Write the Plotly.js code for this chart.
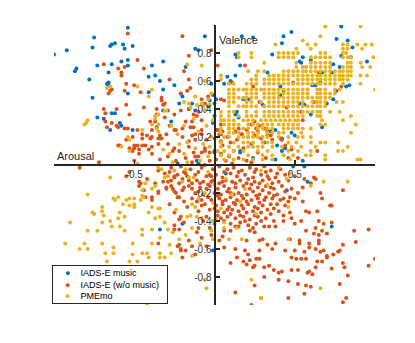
<!DOCTYPE html>
<html>
<head>
<meta charset="utf-8">
<script src="https://cdn.plot.ly/plotly-3.0.1.min.js"></script>
<style>
  html, body { margin: 0; padding: 0; background: #fff; }
  #graphDiv { width: 415px; height: 343px; }
</style>
</head>
<body>
<div id="graphDiv"></div>
<script>
// IADS-E music clips: [arousal, valence]
var musicPts = [
  [-1.0,0.79],[-0.92,0.82],[-0.75,0.91],[-0.76,0.84],[-0.54,0.98],[-0.64,0.86],[-0.62,0.87],[-0.65,0.85],
  [-0.57,0.86],[-0.56,0.83],[-0.51,0.85],[-0.73,0.71],[-0.87,0.67],[-0.86,0.69],[-0.64,0.72],[-0.58,0.74],
  [-0.54,0.75],[-0.54,0.71],[-0.66,0.66],[-0.78,0.61],[-0.67,0.58],[-0.66,0.59],[-0.66,0.57],[-0.39,0.71],
  [-0.32,0.74],[-0.41,0.63],[-0.37,0.64],[-0.34,0.60],[-0.54,0.51],[-0.76,0.48],[-0.41,0.52],[-0.32,0.54],
  [-0.25,0.57],[-0.21,0.51],[-0.06,0.92],[-0.12,0.83],[-0.10,0.82],[-0.18,0.70],[-0.02,0.58],[-0.14,0.44],
  [-0.16,0.40],[-0.22,0.44],[-0.03,0.46],[-0.01,0.50],[-0.64,0.37],[-0.62,0.37],[-0.32,0.39],[-0.73,0.34],
  [-0.69,0.33],[-0.65,0.25],[-0.59,0.30],[-0.58,0.28],[-0.51,0.25],[-0.36,0.27],[-0.27,0.31],[-0.20,0.49],
  [-0.12,0.39],[-0.06,0.39],[-0.04,0.42],[-0.11,0.03],[-0.10,0.01],[-0.23,0.01],[0.04,0.22],[0.0,0.09],
  [0.16,0.09],[0.07,-0.06],[0.24,0.05],[0.17,0.92],[0.24,0.91],[0.48,0.95],[0.43,0.92],[0.42,0.87],
  [0.79,0.99],[0.76,0.90],[0.83,0.89],[0.86,0.84],[0.13,0.79],[0.14,0.77],[0.16,0.71],[0.36,0.79],
  [0.55,0.77],[0.53,0.74],[0.54,0.73],[0.60,0.75],[0.79,0.78],[0.85,0.77],[0.95,0.74],[0.74,0.72],
  [0.78,0.70],[0.33,0.66],[0.13,0.64],[0.08,0.63],[0.06,0.58],[0.10,0.60],[0.67,0.66],[0.66,0.59],
  [0.73,0.66],[0.41,0.56],[0.61,0.57],[0.63,0.57],[0.76,0.53],[0.82,0.56],[0.84,0.57],[0.18,0.47],
  [0.21,0.47],[0.43,0.53],[0.41,0.50],[0.53,0.44],[0.56,0.43],[0.70,0.44],[0.74,0.47],[0.13,0.36],
  [0.14,0.38],[0.60,0.36],[0.30,0.43],[0.31,0.42],[0.01,0.47],[0.0,0.44],[0.15,0.34],[0.35,0.24],
  [0.38,0.25],[0.48,0.23],[0.50,0.21],[0.42,0.19],[0.39,0.14],[0.44,0.12],[0.42,0.10],[0.31,0.16],
  [0.16,0.10],[0.38,0.04],[0.55,0.03],[0.56,-0.01],[0.49,-0.01],[0.58,-0.12],[0.45,-0.18],[0.0,0.10],
  [0.67,0.27],[0.73,-0.44],[-0.34,-0.46],[-0.20,-0.42],[-0.01,-0.61],[0.0,0.35],[-0.01,0.30],[0.01,0.25]
];

// IADS-E sounds without music: [arousal, valence]
var soundPts = [
  [-0.54,0.94],[-0.20,0.92],[-0.16,0.78],[-0.48,0.75],[-0.69,0.72],[-0.60,0.69],[-0.56,0.70],[-0.58,0.66],
  [-0.58,0.64],[-0.44,0.69],[-0.28,0.61],[-0.19,0.67],[-0.16,0.61],[-0.55,0.58],[-0.50,0.57],[-0.64,0.54],
  [-0.65,0.53],[-0.66,0.51],[-0.56,0.53],[-0.46,0.52],[-0.15,0.55],[-0.17,0.53],[-0.21,0.51],[-0.33,0.48],
  [-0.33,0.46],[-0.55,0.43],[-0.44,0.41],[-0.69,0.40],[-0.68,0.37],[-0.61,0.40],[-0.53,0.36],[-0.29,0.39],
  [-0.25,0.36],[-0.21,0.39],[-0.06,0.44],[-0.10,0.38],[-0.13,0.36],[-0.36,0.40],[-0.16,0.40],[-0.68,0.31],
  [-0.67,0.27],[-0.61,0.28],[-0.60,0.27],[-0.56,0.26],[-0.55,0.18],[-0.59,0.14],[-0.50,0.14],[-0.48,0.14],
  [-0.45,0.14],[-0.43,0.14],[-0.53,0.12],[-0.50,0.12],[-0.47,0.11],[-0.41,0.11],[-0.39,0.20],[-0.35,0.19],
  [-0.34,0.21],[-0.40,0.31],[-0.37,0.31],[-0.36,0.36],[-0.31,0.34],[-0.45,0.22],[-0.28,0.28],[-0.25,0.25],
  [-0.30,0.22],[-0.32,0.43],[-0.31,0.44],[-0.11,0.35],[-0.08,0.32],[-0.14,0.31],[-0.18,0.31],[-0.13,0.27],
  [-0.20,0.26],[-0.12,0.18],[-0.14,0.21],[-0.16,0.17],[-0.08,0.22],[-0.06,0.12],[-0.03,0.09],[-0.08,0.09],
  [-0.12,0.06],[-0.18,0.05],[-0.25,0.12],[-0.22,0.10],[-0.04,0.49],[-0.08,0.47],[-0.72,0.02],[-0.84,-0.02],
  [-0.60,0.14],[-0.51,0.10],[-0.50,0.03],[-0.47,0.08],[-0.40,0.19],[-0.39,0.13],[-0.39,0.08],[-0.35,0.15],
  [-0.34,0.04],[-0.29,0.06],[-0.26,0.10],[-0.24,0.03],[-0.42,-0.10],[-0.46,-0.13],[-0.47,-0.15],[-0.39,-0.23],
  [-0.35,-0.19],[-0.30,-0.16],[-0.27,-0.11],[-0.25,-0.09],[-0.35,-0.04],[-0.31,-0.06],[-0.28,-0.05],[-0.23,-0.07],
  [-0.19,-0.05],[-0.22,-0.13],[-0.19,-0.16],[-0.16,-0.11],[-0.14,-0.17],[-0.09,-0.13],[-0.05,-0.17],[-0.02,-0.12],
  [-0.22,-0.23],[-0.19,-0.26],[-0.17,-0.30],[-0.11,-0.26],[-0.08,-0.29],[-0.04,-0.23],[-0.16,0.13],[-0.13,0.09],
  [-0.10,0.06],[-0.06,0.10],[-0.03,0.03],[-0.14,0.02],[-0.06,0.0],[-0.15,0.27],[-0.12,0.22],[-0.08,0.25],
  [-0.05,0.18],[-0.20,0.20],[-0.24,0.25],[-0.51,0.20],[-0.48,0.25],[-0.54,0.26],[-0.64,0.30],[-0.45,0.19],
  [-0.42,0.21],[-0.39,0.25],[-0.33,0.19],[-0.29,0.15],
  [0.04,0.29],[0.02,0.25],[0.08,0.20],[0.10,0.16],[0.05,0.14],[0.14,0.18],[0.17,0.22],[0.20,0.25],
  [0.21,0.20],[0.23,0.15],[0.25,0.31],[0.28,0.28],[0.31,0.26],[0.33,0.21],[0.36,0.18],[0.27,0.09],
  [0.32,0.05],[0.42,0.18],[0.55,0.32],[0.64,0.10],[0.04,0.08],[0.09,0.06],[0.15,0.05],[0.20,0.03],
  [0.23,0.02],[0.02,0.71],[0.19,0.71],[0.11,0.59],[0.24,0.56],[0.04,0.47],[0.06,0.46],[0.28,0.45],
  [0.49,0.59],[0.45,0.41],[0.54,0.38],[0.62,0.45],[0.79,0.56],[0.65,0.66],[-0.02,0.82],[0.05,0.24],
  [0.03,0.22],[0.0,0.19],[0.04,0.17],[0.09,0.26],[0.13,0.24],[0.15,0.26],[0.17,0.22],[0.23,0.29],
  [0.26,0.26],[0.27,0.24],[0.25,0.21],[0.29,0.19],[0.33,0.24],[0.35,0.21],[0.41,0.19],[0.44,0.14],
  [0.46,0.05],[0.52,0.05],[0.48,0.11],[0.07,0.03],[0.12,0.10],[0.18,0.12],[0.01,0.04],[0.11,0.01],
  [-0.27,-0.02],[-0.21,-0.01],[-0.15,-0.03],[-0.08,-0.02],[-0.01,-0.03],[0.03,-0.01],[0.08,-0.03],[0.12,-0.02],
  [0.17,-0.04],[0.22,-0.02],[0.26,-0.03],[0.31,-0.01],[0.35,-0.04],[0.41,-0.03],[-0.25,-0.08],[-0.17,-0.08],
  [-0.12,-0.07],[-0.05,-0.08],[0.01,-0.07],[0.05,-0.09],[0.10,-0.06],[0.14,-0.08],[0.19,-0.07],[0.24,-0.09],
  [0.29,-0.07],[0.33,-0.08],[0.38,-0.09],[0.44,-0.07],[0.50,-0.08],[-0.29,-0.12],[-0.20,-0.10],[-0.11,-0.11],
  [-0.07,-0.12],[-0.01,-0.11],[0.03,-0.13],[0.07,-0.11],[0.11,-0.12],[0.16,-0.11],[0.20,-0.13],[0.25,-0.12],
  [0.30,-0.11],[0.36,-0.13],[0.40,-0.12],[0.46,-0.11],[-0.26,-0.17],[-0.16,-0.15],[-0.09,-0.16],[-0.03,-0.15],
  [0.02,-0.17],[0.06,-0.15],[0.09,-0.17],[0.13,-0.16],[0.18,-0.15],[0.22,-0.17],[0.27,-0.16],[0.32,-0.15],
  [0.37,-0.17],[0.42,-0.15],[0.48,-0.17],[-0.24,-0.20],[-0.12,-0.20],[-0.07,-0.21],[0.0,-0.20],[0.04,-0.21],
  [0.08,-0.19],[0.12,-0.21],[0.15,-0.20],[0.20,-0.21],[0.24,-0.19],[0.28,-0.21],[0.34,-0.20],[0.39,-0.21],
  [0.52,-0.20],[-0.14,-0.24],[-0.02,-0.25],[0.03,-0.24],[0.07,-0.25],[0.10,-0.23],[0.14,-0.25],[0.18,-0.24],
  [0.23,-0.25],[0.27,-0.24],[0.31,-0.25],[0.36,-0.24],[0.41,-0.25],[-0.06,-0.28],[0.01,-0.29],[0.05,-0.28],
  [0.09,-0.30],[0.13,-0.28],[0.17,-0.29],[0.21,-0.28],[0.25,-0.30],[0.30,-0.29],[0.35,-0.28],[0.44,-0.29],
  [-0.10,-0.33],[-0.03,-0.32],[0.02,-0.33],[0.06,-0.34],[0.11,-0.32],[0.15,-0.33],[0.20,-0.34],[0.24,-0.33],
  [0.29,-0.34],[0.33,-0.32],[0.40,-0.33],[0.47,-0.34],[-0.05,-0.37],[0.04,-0.38],[0.08,-0.37],[0.13,-0.38],
  [0.18,-0.37],[0.22,-0.39],[0.27,-0.37],[0.32,-0.38],[0.37,-0.40],[0.0,-0.42],[0.10,-0.42],[0.16,-0.41],
  [0.21,-0.43],[0.26,-0.42],[0.31,-0.44],
  [-0.18,-0.06],[-0.10,-0.05],[-0.03,-0.07],[0.06,-0.05],[0.15,-0.05],[0.21,-0.10],[0.28,-0.13],[0.34,-0.10],
  [0.39,-0.06],[-0.14,-0.13],[-0.04,-0.14],[0.05,-0.12],[0.13,-0.13],[0.23,-0.14],[0.30,-0.18],[0.35,-0.16],
  [0.44,-0.19],[-0.20,-0.18],[-0.10,-0.19],[0.02,-0.22],[0.10,-0.20],[0.17,-0.22],[0.26,-0.22],[0.32,-0.23],
  [0.37,-0.22],[0.46,-0.26],[-0.08,-0.25],[0.05,-0.26],[0.12,-0.27],[0.20,-0.26],[0.28,-0.27],[0.39,-0.28],
  [0.0,-0.31],[0.08,-0.32],[0.18,-0.31],[0.27,-0.31],[0.37,-0.31],[0.43,-0.36],[0.02,-0.36],[0.10,-0.35],
  [0.16,-0.36],[0.25,-0.36],[0.35,-0.35],[0.06,-0.40],[0.19,-0.40],[0.29,-0.40],[0.13,-0.44],[0.24,-0.45],
  [-0.02,-0.08],[0.25,-0.05],[0.32,-0.05],
  [0.56,-0.10],[0.55,-0.16],[0.60,-0.13],[0.66,-0.20],[0.67,-0.24],[0.72,-0.29],[0.73,-0.29],[0.55,-0.26],
  [0.47,-0.23],[0.50,-0.24],[0.43,-0.24],[0.80,-0.18],[0.62,-0.09],[0.63,-0.10],[0.73,-0.41],[0.87,-0.47],
  [0.96,-0.46],[0.88,-0.55],[1.0,-0.67],[0.96,-0.72],[0.80,-0.57],[0.78,-0.61],[0.74,-0.64],[0.80,-0.70],
  [0.81,-0.73],[0.73,-0.74],[0.83,-0.79],[0.78,-0.85],[0.82,-0.95],[0.80,-0.98],[0.59,-0.76],[0.61,-0.78],
  [0.63,-0.73],[0.57,-0.86],[0.60,-0.87],[0.56,-0.92],[0.46,-0.95],[0.23,-1.0],[0.29,-0.95],[0.13,-0.91],
  [0.25,-0.86],[0.10,-0.70],[0.06,-0.59],[0.13,-0.60],[0.19,-0.61],[0.22,-0.68],[0.26,-0.67],[0.24,-0.73],
  [0.31,-0.73],[0.34,-0.72],[0.37,-0.75],[0.31,-0.80],[0.40,-0.77],[0.42,-0.76],[0.48,-0.75],[0.52,-0.75],
  [0.40,-0.82],[0.46,-0.83],[0.52,-0.85],[0.48,-0.66],[0.51,-0.67],[0.54,-0.67],[0.57,-0.67],[0.44,-0.61],
  [0.50,-0.61],[0.56,-0.62],[0.59,-0.59],[0.63,-0.60],[0.68,-0.61],[0.70,-0.66],[0.38,-0.56],[0.36,-0.60],
  [0.33,-0.57],[0.30,-0.53],[0.28,-0.61],[0.21,-0.64],[0.47,-0.53],[0.53,-0.54],[0.59,-0.56],[0.65,-0.54],
  [0.62,-0.49],[0.57,-0.47],[0.67,-0.47],[0.70,-0.49],[0.50,-0.42],[0.54,-0.40],[0.48,-0.38],[0.43,-0.40],
  [0.38,-0.44],[0.34,-0.44],[0.57,-0.33],[0.59,-0.34],[0.64,-0.33],[0.65,-0.40],[0.28,-0.54],[0.25,-0.48],
  [0.22,-0.47],[0.20,-0.54],[0.15,-0.44],[0.10,-0.47],[0.06,-0.47],[0.05,-0.51],[0.03,-0.54],[0.28,-0.67],
  [0.25,-0.72],[0.20,-0.71],[0.18,-0.69],[0.14,-0.66],[0.58,-0.77],[0.64,-0.69],[0.67,-0.69],[0.70,-0.65],
  [0.66,-0.62],[0.77,-0.62],[0.68,-0.42],[0.63,-0.45],[0.65,-0.50],[0.65,-0.56],[0.53,-0.56],
  [-0.55,-0.08],[-0.53,-0.05],[-0.47,-0.12],[-0.44,-0.18],[-0.43,-0.23],[-0.39,-0.25],[-0.35,-0.20],[-0.37,-0.13],
  [-0.32,-0.12],[-0.30,-0.17],[-0.27,-0.15],[-0.25,-0.19],[-0.23,-0.23],[-0.28,-0.28],[-0.25,-0.34],[-0.21,-0.37],
  [-0.19,-0.41],[-0.22,-0.46],[-0.23,-0.58],[-0.16,-0.54],[-0.14,-0.58],[-0.21,-0.61],[-0.20,-0.66],[-0.35,-0.56],
  [-0.25,-0.46],[-0.22,-0.57],[-0.21,-0.60],[-0.18,-0.61],[-0.12,-0.64],[-0.25,-0.43],[-0.22,-0.39],[-0.03,-0.45],
  [-0.07,-0.40],[-0.10,-0.45],[-0.02,-0.50],[-0.08,-0.52],[-0.05,-0.58],[-0.11,-0.48]
];

// PMEmo songs on the rating grid: valence rows and the arousal values filled in each row
var pmemoRowY = [0.99, 0.92, 0.89, 0.86, 0.83, 0.80, 0.77, 0.73, 0.70, 0.67, 0.64, 0.61, 0.58, 0.54,
  0.51, 0.48, 0.45, 0.42, 0.38, 0.35, 0.32, 0.29, 0.26, 0.23, 0.20, 0.16, 0.13, 0.10, 0.07, 0.04];
var pmemoRowX = [
  [0.69,0.91],
  [0.66],
  [0.55],
  [0.38,0.58,0.63,0.80,0.83,0.89,0.94,0.98],
  [0.51,0.60,0.80,0.83,0.92],
  [0.15,0.23,0.40,0.43,0.46,0.49,0.52,0.66,0.69,0.80,0.82],
  [0.15,0.23,0.40,0.43,0.46,0.49,0.60,0.63,0.66,0.69,0.72,0.80,0.83,0.85,0.99],
  [0.31,0.51,0.60,0.63,0.66,0.69,0.72,0.83,0.85,0.91],
  [0.51,0.55,0.57,0.60,0.63,0.66,0.69,0.72,0.80,0.83,0.85,0.92,0.97],
  [0.21,0.27,0.31,0.43,0.46,0.49,0.52,0.55,0.57,0.60,0.63,0.66,0.69,0.72,0.75,0.78,0.80,0.83,0.85],
  [0.04,0.26,0.34,0.37,0.40,0.43,0.46,0.49,0.52,0.55,0.58,0.61,0.64,0.66,0.69,0.72,0.75,0.78,0.80,0.83,0.85,0.91,0.95],
  [0.04,0.23,0.26,0.31,0.34,0.37,0.40,0.43,0.46,0.52,0.55,0.58,0.61,0.64,0.66,0.69,0.72,0.75,0.78,0.80,0.83],
  [0.09,0.12,0.20,0.23,0.26,0.31,0.34,0.37,0.40,0.43,0.46,0.49,0.52,0.55,0.58,0.61,0.64,0.66,0.69,0.72,0.75,0.80,0.91],
  [0.09,0.12,0.15,0.18,0.20,0.23,0.26,0.29,0.31,0.34,0.37,0.40,0.43,0.46,0.49,0.52,0.55,0.58,0.64,0.66,0.69,0.75,0.78,1.0],
  [0.09,0.12,0.20,0.23,0.26,0.31,0.34,0.37,0.40,0.43,0.46,0.49,0.52,0.55,0.58,0.64,0.66,0.69,0.72,0.75],
  [0.09,0.12,0.15,0.18,0.20,0.23,0.26,0.31,0.34,0.37,0.40,0.43,0.46,0.49,0.52,0.55,0.58,0.61,0.64,0.66,0.69,0.72],
  [0.09,0.12,0.20,0.23,0.29,0.34,0.37,0.40,0.43,0.46,0.49,0.52,0.55,0.61,0.64,0.66,0.69,0.76,0.80],
  [0.09,0.15,0.18,0.20,0.23,0.26,0.31,0.34,0.37,0.40,0.43,0.46,0.49,0.52,0.55,0.58,0.61,0.64,0.66,0.69],
  [0.04,0.09,0.12,0.20,0.26,0.31,0.34,0.37,0.40,0.43,0.46,0.49,0.52,0.55,0.58,0.61,0.64,0.66,0.72,0.78],
  [0.04,0.09,0.15,0.20,0.23,0.26,0.31,0.34,0.37,0.40,0.43,0.46,0.49,0.52,0.55,0.64,0.66,0.85],
  [0.04,0.06,0.09,0.12,0.18,0.21,0.24,0.29,0.32,0.35,0.38,0.41,0.44,0.47,0.50,0.52,0.67,0.80],
  [0.06,0.09,0.12,0.15,0.21,0.24,0.27,0.30,0.33,0.36,0.40,0.43,0.46,0.49,0.52,0.66,0.69,0.88],
  [0.04,0.09,0.12,0.18,0.21,0.27,0.30,0.33,0.36,0.43,0.46,0.49,0.52,0.55,0.60],
  [0.04,0.09,0.12,0.15,0.21,0.24,0.27,0.33,0.36,0.40,0.43,0.54,0.85],
  [0.06,0.09,0.15,0.18,0.21,0.24,0.27,0.30,0.33,0.40,0.46,0.52,0.55,0.60],
  [0.04,0.12,0.18,0.21,0.24,0.30,0.33,0.36,0.46,0.51,0.60,0.66,0.69,0.77],
  [0.04,0.09,0.15,0.21,0.24,0.27,0.30,0.36,0.42,0.48,0.54,0.63,0.83],
  [0.02,0.06,0.12,0.18,0.27,0.33,0.46,0.52,0.60,0.77,0.80],
  [0.04,0.09,0.21,0.30,0.36,0.43,0.49,0.57,0.60,0.69],
  [0.06,0.12,0.18,0.24,0.30,0.36,0.47,0.69,0.89,0.91]
];

// PMEmo songs away from the dense block: [arousal, valence]
var pmemoPts = [
  [-0.80,0.30],[-0.81,0.29],[-0.79,0.32],[-0.67,0.55],[-0.65,0.56],[-0.48,0.56],[-0.39,0.54],[-0.08,0.71],
  [-0.17,0.72],[-0.31,0.39],[-0.36,0.26],[-0.35,0.29],[-0.54,0.20],[-0.53,0.18],[-0.45,0.25],[-0.16,0.44],
  [-0.15,0.41],[-0.11,0.43],[-0.08,0.44],[-0.04,0.47],[-0.03,0.43],[-0.12,0.49],[-0.41,0.49],[-0.58,0.13],
  [-0.53,0.10],[-0.48,0.01],[-0.39,0.29],[-0.37,0.33],[-0.35,0.24],[-0.06,0.60],[-0.02,0.51],[-0.19,0.45],
  [-0.30,0.39],[-0.35,0.36],[-0.37,0.35],[-0.07,0.42],[-0.06,0.39],
  [-0.27,0.28],[-0.23,0.22],[-0.19,0.28],[-0.17,0.16],[-0.10,0.24],[-0.05,0.28],[-0.07,0.15],[-0.02,0.20],
  [-0.03,0.13],[-0.22,0.15],[-0.28,0.08],[-0.32,0.11],[-0.19,0.08],[-0.12,0.12],[-0.09,0.03],[-0.04,0.06],
  [-0.17,0.02],[-0.26,0.02],[-0.01,0.32],[-0.13,0.33],
  [-0.35,-0.02],[-0.31,-0.09],[-0.18,-0.03],[-0.13,-0.09],[-0.04,-0.05],[0.0,-0.14],[-0.06,-0.20],[-0.01,-0.27],
  [-0.12,-0.30],[-0.15,-0.36],[-0.08,-0.38],[0.07,-0.10],[0.11,-0.21],[0.04,-0.31],[0.16,-0.26],[0.19,-0.17],
  [0.29,-0.04],[0.33,-0.14],[0.26,-0.35],[0.06,-0.45],[0.01,-0.38],[-0.01,-0.40],[-0.02,-0.47],[-0.01,-0.53],
  [0.09,-0.53],[0.17,-0.53],[0.06,-0.41],[0.14,-0.45],[0.46,-0.53],[0.47,-0.06],[0.68,-0.12],[0.83,-0.12],
  [0.60,-0.15],[0.46,-0.30],[0.23,-0.82],[0.29,-0.95],[0.66,-0.88],[0.40,-0.02],[0.45,-0.10],
  [-0.65,-0.09],[-0.79,-0.21],[-0.62,-0.25],[-0.55,-0.25],[-0.53,-0.29],[-0.50,-0.28],[-0.46,-0.25],[-0.44,-0.23],
  [-0.76,-0.34],[-0.70,-0.33],[-0.69,-0.36],[-0.65,-0.40],[-0.90,-0.41],[-0.79,-0.47],[-0.73,-0.47],[-0.84,-0.60],
  [-0.79,-0.60],[-0.93,-0.56],[-1.0,-0.75],[-0.42,-1.0],[-0.81,-0.56],[-0.75,-0.35],[-0.70,-0.41],[-0.68,-0.63],
  [-0.64,-0.44],[-0.63,-0.59],[-0.60,-0.38],[-0.59,-0.44],[-0.56,-0.47],[-0.56,-0.37],[-0.59,-0.34],[-0.70,-0.56],
  [-0.67,-0.69],[-0.63,-0.63],[-0.51,-0.56],[-0.48,-0.69],[-0.45,-0.46],[-0.45,-0.50],[-0.45,-0.63],[-0.42,-0.63],
  [-0.41,-0.66],[-0.41,-0.34],[-0.39,-0.46],[-0.37,-0.38],[-0.34,-0.37],[-0.34,-0.63],[-0.34,-0.66],[-0.31,-0.66],
  [-0.27,-0.63],[-0.28,-0.57],[-0.29,-0.46],[-0.51,-0.64],[-0.17,-0.37],[-0.11,-0.37],[-0.18,-0.50],[-0.06,-0.82],
  [-0.05,-0.88],[-0.53,-0.69],[-0.70,-0.30],[-0.63,-0.24],[-0.60,-0.23],[-0.57,-0.28],[-0.53,-0.24],[-0.50,-0.24],
  [-0.50,-0.30],[-0.45,-0.22],[-0.45,-0.18],[-0.43,-0.13],[-0.39,-0.17],[-0.37,-0.15],[-0.35,-0.31],[-0.34,-0.31],
  [-0.39,-0.30],[-0.33,-0.03],[-0.29,-0.08],[-0.25,-0.04],[-0.20,-0.12],[-0.16,-0.09],[-0.14,-0.28],[-0.10,-0.24],
  [-0.24,-0.32],[-0.31,-0.41],[-0.26,-0.48],[-0.22,-0.53],[-0.14,-0.45],[-0.09,-0.56],[-0.14,-0.65],[-0.39,-0.56],
  [-0.34,-0.52]
];

var xTicks = [-1, -0.5, 0.5, 1];
var xTickText = ['', '-0.5', '0.5', ''];
var yTicks = [-1, -0.8, -0.6, -0.4, -0.2, 0.2, 0.4, 0.6, 0.8, 1];
var yTickText = ['', '-0.8', '-0.6', '-0.4', '-0.2', '0.2', '0.4', '0.6', '0.8', ''];

function col(pts, i) {
  return pts.map(function (p) { return p[i]; });
}

var pmemoX = [];
var pmemoY = [];
for (var r = 0; r < pmemoRowY.length; r++) {
  for (var c = 0; c < pmemoRowX[r].length; c++) {
    pmemoX.push(pmemoRowX[r][c]);
    pmemoY.push(pmemoRowY[r]);
  }
}
pmemoX = pmemoX.concat(col(pmemoPts, 0));
pmemoY = pmemoY.concat(col(pmemoPts, 1));

var dotSize = 4;
var musicTrace = {
  x: col(musicPts, 0), y: col(musicPts, 1),
  type: 'scatter', mode: 'markers', name: 'IADS-E music',
  marker: { color: '#0072BD', size: dotSize }
};
var soundTrace = {
  x: col(soundPts, 0), y: col(soundPts, 1),
  type: 'scatter', mode: 'markers', name: 'IADS-E (w/o music)',
  marker: { color: '#D95319', size: dotSize }
};
var pmemoTrace = {
  x: pmemoX, y: pmemoY,
  type: 'scatter', mode: 'markers', name: 'PMEmo',
  marker: { color: '#EDB120', size: dotSize }
};

var axisColor = '#262626';
var tickFont = { family: 'Liberation Sans, Arial, sans-serif', size: 10, color: '#333333' };
var nb = '\u00a0';
// legend box drawn as one bordered annotation so it stays as compact as the original
function legendRow(color, label) {
  return nb + nb + nb + nb + '<span style="color:' + color + '">\u25CF</span>' +
    nb + nb + nb + nb + label;
}
var legendText = legendRow('#0072BD', 'IADS-E music') + '<br>' +
  legendRow('#D95319', 'IADS-E (w/o music)') + '<br>' +
  legendRow('#EDB120', 'PMEmo');

var layout = {
  width: 415,
  height: 343,
  margin: { l: 54, r: 40, t: 25, b: 38 },
  paper_bgcolor: '#ffffff',
  plot_bgcolor: '#ffffff',
  showlegend: false,
  xaxis: {
    range: [-1, 1], anchor: 'free', position: 0.5,
    showline: true, linecolor: axisColor, linewidth: 2,
    showgrid: false, zeroline: false,
    ticks: 'inside', ticklen: 4, tickwidth: 1.5, tickcolor: axisColor,
    tickmode: 'array', tickvals: xTicks, ticktext: xTickText,
    tickfont: tickFont
  },
  yaxis: {
    range: [-1, 1], anchor: 'free', position: 0.5,
    showline: true, linecolor: axisColor, linewidth: 2,
    showgrid: false, zeroline: false,
    ticks: 'inside', ticklen: 4, tickwidth: 1.5, tickcolor: axisColor,
    tickmode: 'array', tickvals: yTicks, ticktext: yTickText,
    tickfont: tickFont
  },
  annotations: [
    {
      text: 'Arousal', xref: 'paper', yref: 'paper', x: 0.003, y: 0.5,
      xanchor: 'left', yanchor: 'bottom', yshift: 1, showarrow: false,
      font: { family: 'Liberation Sans, Arial, sans-serif', size: 11, color: axisColor }
    },
    {
      text: 'Valence', xref: 'paper', yref: 'paper', x: 0.5, y: 0.946,
      xanchor: 'left', yanchor: 'middle', xshift: 2, showarrow: false,
      font: { family: 'Liberation Sans, Arial, sans-serif', size: 11, color: axisColor }
    },
    {
      text: legendText, xref: 'paper', yref: 'paper', x: -0.006, y: 0.143,
      xanchor: 'left', yanchor: 'top', align: 'left', showarrow: false,
      bgcolor: '#ffffff', bordercolor: axisColor, borderwidth: 1, borderpad: 2,
      width: 110,
      font: { family: 'Liberation Sans, Arial, sans-serif', size: 9, color: '#000000' }
    }
  ]
};

Plotly.newPlot('graphDiv', [musicTrace, soundTrace, pmemoTrace], layout, { staticPlot: true });
</script>
</body>
</html>
